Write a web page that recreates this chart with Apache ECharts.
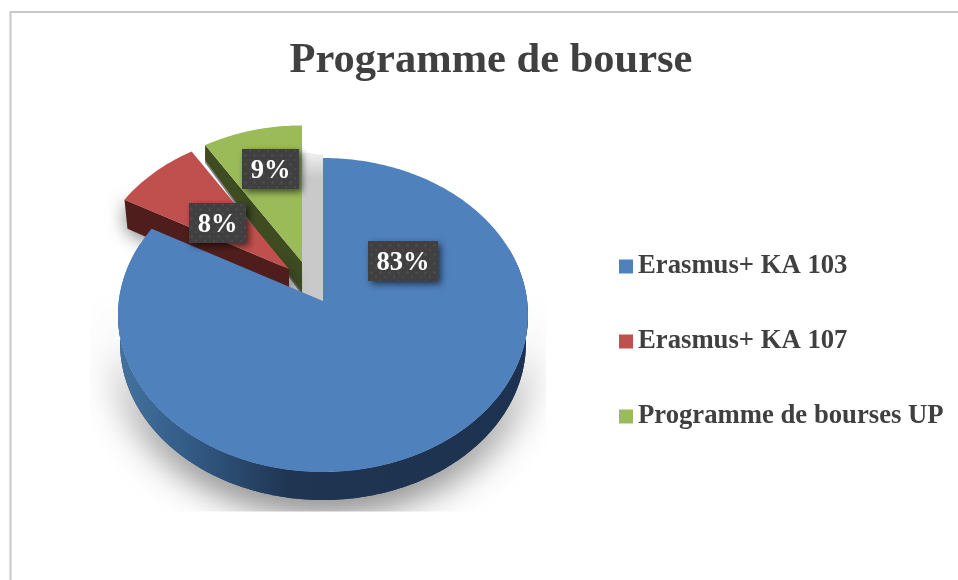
<!DOCTYPE html>
<html><head><meta charset="utf-8">
<style>html,body{margin:0;padding:0;background:#fff}#c{width:958px;height:580px}</style>
<script src="https://cdn.jsdelivr.net/npm/echarts@6/dist/echarts.min.js"></script>
</head><body><div id="c"></div>
<script>
const categories = ['Erasmus+ KA 103', 'Erasmus+ KA 107', 'Programme de bourses UP'];
const shares = [83, 8, 9];
const shareLabels = ['83%', '8%', '9%'];
const colors = ['#4f81bd', '#c0504d', '#9bbb59'];

const FONT = '"Liberation Serif","Times New Roman",serif';
// projection of the tilted, exploded pie
const RX = 205, RY = 157, OFF = 14, TILT = RY / RX;
const pieces = [
  {ax: 323, ay: 301, s: 1},
  {ax: 289, ay: 269, s: 0.96, dA: 30, dOx: 3, dOy: 29, side: '#4f1e1c'},
  {ax: 302, ay: 262, s: 0.955, dA: 30, dOx: 0, dOy: 15, side: '#3f4c22'}
];
const labelCentres = [[403, 261], [217.5, 223], [270.5, 169]];
const labelW = [70, 57, 57];

const total = shares.reduce((a, b) => a + b, 0);
function spans() {
  let acc = 0;
  return shares.map(v => { const a = acc / total * 360; acc += v; return [a, acc / total * 360]; });
}
function rim(deg, p, scaleX, dy) {
  const th = deg * Math.PI / 180, rx = RX * p.s * (scaleX || 1), ry = RY * p.s, off = OFF * p.s;
  const dx = Math.sin(th), dyy = -TILT * Math.cos(th);
  const a = dx * dx / rx / rx + dyy * dyy / ry / ry;
  const b = -2 * off * dyy / ry / ry;
  const c = off * off / ry / ry - 1;
  const t = (-b + Math.sqrt(b * b - 4 * a * c)) / (2 * a);
  return [p.ax + t * dx, p.ay + t * dyy + (dy || 0)];
}
function arc(a0, a1, p, scaleX, dy) {
  const pts = [], n = Math.max(2, Math.ceil(Math.abs(a1 - a0)));
  for (let i = 0; i <= n; i++) pts.push(rim(a0 + (a1 - a0) * i / n, p, scaleX, dy));
  return pts;
}
const dots = document.createElement('canvas');
dots.width = dots.height = 9;
(function () {
  const g = dots.getContext('2d');
  g.fillStyle = '#404040'; g.fillRect(0, 0, 9, 9);
  g.fillStyle = '#4e4e4e'; g.beginPath(); g.arc(2.5, 2.5, 1.3, 0, 7); g.fill();
  g.beginPath(); g.arc(7, 7, 1.1, 0, 7); g.fill();
})();

function renderSlice(params, api) {
  const i = api.value(0), sp = spans()[i], p = pieces[i], color = colors[i];
  const top = [[p.ax, p.ay]].concat(arc(sp[0], sp[1], p));
  const kids = [];
  if (i === 0) {
    const lowerTop = arc(70, Math.min(sp[1], 292), p);
    const lowerBot = arc(70, Math.min(sp[1], 292), p, 0.99, 28);
    const wall = lowerTop.concat(lowerBot.reverse());
    const castTop = arc(92, 268, p);
    const castBot = arc(92, 268, p, 0.99, 28);
    kids.push({type: 'group',
      clipPath: {type: 'rect', shape: {x: 90, y: 200, width: 456, height: 311.5}},
      children: [{type: 'polygon', shape: {points: castTop.concat(castBot.reverse())}, style: {
        fill: '#1e3350', shadowBlur: 38, shadowColor: 'rgba(0,0,0,0.7)', shadowOffsetY: 8}}]});
    kids.push({type: 'polygon', shape: {points: wall}, style: {
      fill: {type: 'linear', global: true, x: 118, y: 0, x2: 528, y2: 0, colorStops: [
        {offset: 0, color: '#44739f'}, {offset: 0.18, color: '#325a85'},
        {offset: 0.42, color: '#1f3551'}, {offset: 1, color: '#1d3250'}]}}});
  } else {
    const corner = rim(sp[0], p);
    if (i === 2) {
      const t = [[p.ax - 14, 150], [p.ax + 21, 155], [p.ax + 21, p.ay + 39], [p.ax - 14, p.ay + 30]];
      kids.push({type: 'polygon', shape: {points: t}, style: {
        fill: {type: 'linear', global: true, x: 0, y: 150, x2: 0, y2: 178, colorStops: [
          {offset: 0, color: '#f4f4f4'}, {offset: 1, color: '#c9c9c9'}]}}});
    }
    kids.push({type: 'polygon', shape: {points: [corner, [p.ax, p.ay], [p.ax, p.ay + p.dA],
      [corner[0] + p.dOx, corner[1] + p.dOy]]},
      style: {fill: p.side, shadowBlur: i === 1 ? 18 : 0, shadowColor: 'rgba(0,0,0,0.5)', shadowOffsetY: 3}});
  }
  kids.push({type: 'polygon', shape: {points: top}, style: {fill: color}});
  return {type: 'group', children: kids};
}
function renderTag(params, api) {
  const i = api.value(0), c = labelCentres[i], w = labelW[i], h = 40;
  return {type: 'group', children: [
    {type: 'rect', shape: {x: c[0] - w / 2, y: c[1] - h / 2, width: w, height: h},
      style: {fill: {image: dots, repeat: 'repeat'}, shadowBlur: 7, shadowColor: 'rgba(0,0,0,0.6)', shadowOffsetX: 3, shadowOffsetY: 3}},
    {type: 'text', style: {x: c[0], y: c[1] + 2, text: shareLabels[i], fill: '#fff', align: 'center', verticalAlign: 'middle',
      font: 'bold 26.5px ' + FONT}}
  ]};
}
const seriesOf = (i, z) => ({
  name: categories[i], type: 'custom', coordinateSystem: 'none', z, silent: true, animation: false,
  itemStyle: {color: colors[i]}, data: [[i, shares[i]]], encode: {value: 1}, renderItem: renderSlice
});
const chart = echarts.init(document.getElementById('c'), null, {renderer: 'canvas'});
chart.setOption({
  animation: false,
  backgroundColor: '#fff',
  title: {text: 'Programme de bourse', left: 486, textAlign: 'center', top: 35,
    textStyle: {fontFamily: FONT, fontWeight: 'bold', fontSize: 42.5, color: '#404040'}},
  legend: {
    orient: 'vertical', left: 614, top: 248, itemWidth: 14, itemHeight: 14, itemGap: 48, icon: 'rect',
    selectedMode: false,
    data: categories.map((n, i) => ({name: n, itemStyle: {color: colors[i]}})),
    textStyle: {fontFamily: FONT, fontWeight: 'bold', fontSize: 26.7, color: '#404040'}
  },
  graphic: [{type: 'rect', shape: {x: 10.5, y: 12, width: 1000, height: 700}, silent: true, z: -1,
    style: {fill: 'none', stroke: '#c8c8c8', lineWidth: 2}}],
  series: [seriesOf(2, 2), seriesOf(1, 3), seriesOf(0, 4), {
    name: 'labels', type: 'custom', coordinateSystem: 'none', z: 10, silent: true, animation: false,
    data: shares.map((v, i) => [i, v]), renderItem: renderTag
  }]
});
</script></body></html>
